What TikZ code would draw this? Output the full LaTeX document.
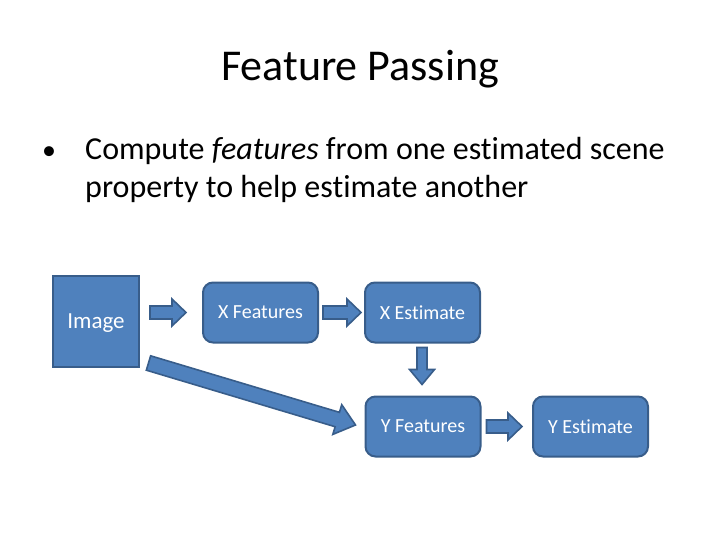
\documentclass[tikz,border=0pt]{standalone}
\usepackage{fontspec}
\setmainfont{Carlito}[Ligatures=NoCommon]
\usetikzlibrary{calc}
\definecolor{boxfill}{HTML}{4F81BD}
\definecolor{boxline}{HTML}{385D8A}
\tikzset{
  blk/.style={draw=boxline, fill=boxfill, line width=2pt, text=white,
    font=\fontsize{20}{24}\selectfont, inner sep=0pt},
  rbox/.style={blk, rounded corners=10pt, minimum width=115pt, minimum height=60pt},
  blkarr/.style={draw=boxline, fill=boxfill, line width=1.6pt, line join=miter},
}
% #1 start, #2 end, #3 half shaft, #4 half head, #5 head length
\newcommand\blockarrow[5]{%
  \path let \p1=($(#2)-(#1)$), \n1={veclen(\x1,\y1)} in
    coordinate (ba-s1) at ($(#1)!#3!90:(#2)$)
    coordinate (ba-s2) at ($(#1)!#3!-90:(#2)$)
    coordinate (ba-h) at ($(#1)!\n1-#5!(#2)$);
  \draw[blkarr] (ba-s1) -- ($(ba-h)!#3!90:(#2)$) -- ($(ba-h)!#4!90:(#2)$)
    -- (#2) -- ($(ba-h)!#4!-90:(#2)$) -- ($(ba-h)!#3!-90:(#2)$) -- (ba-s2) -- cycle;
}
\begin{document}
\begin{tikzpicture}[x=1pt,y=-1pt]
\useasboundingbox (0,0) rectangle (720,540);
\node[anchor=base, font=\fontsize{44}{52}\selectfont] (title) at (360,81) {Feature Passing};
\node[anchor=base, font=\fontsize{28}{34}\selectfont] (bullet) at (49,160) {•};
\node[anchor=base west, font=\fontsize{32}{38}\selectfont, inner sep=0pt] (l1) at (85,160)
  {Compute \textit{features} from one estimated scene};
\node[anchor=base west, font=\fontsize{32}{38}\selectfont, inner sep=0pt] (l2) at (85,197)
  {property to help estimate another};

\node[blk, minimum width=86pt, minimum height=91pt, font=\fontsize{23}{27}\selectfont,
  text depth=0pt] (img) at (96,321.5) {Image};
\node[rbox] (xf) at (260.5,312.5) {X Features};
\node[rbox] (xe) at (422.5,312.5) {X Estimate};
\node[rbox] (yf) at (423,426.5) {Y Features};
\node[rbox] (ye) at (590.5,426.5) {Y Estimate};

\coordinate (a1s) at ($(img.east)+(10,-9)$);
\coordinate (a1e) at ($(xf.west)+(-16,0)$);
\coordinate (a2s) at ($(xf.east)+(4,0)$);
\coordinate (a2e) at ($(xe.west)+(-3,0)$);
\coordinate (a3s) at ($(yf.east)+(5,0)$);
\coordinate (a3e) at ($(ye.west)+(-10,0)$);
\coordinate (a4s) at ($(xe.south)+(-0.5,4)$);
\coordinate (a4e) at ($(yf.north)+(-1,-11)$);
\coordinate (a5s) at ($(img.south east)+(8.5,-5)$);
\coordinate (a5e) at ($(yf.west)+(-9,-1.5)$);

\blockarrow{a1s}{a1e}{6.5pt}{13.5pt}{14pt}
\blockarrow{a2s}{a2e}{6.5pt}{13.5pt}{14pt}
\blockarrow{a3s}{a3e}{6.5pt}{13.5pt}{14pt}
\blockarrow{a4s}{a4e}{5pt}{12.5pt}{15pt}
\blockarrow{a5s}{a5e}{7.5pt}{15.5pt}{19pt}
\end{tikzpicture}
\end{document}
